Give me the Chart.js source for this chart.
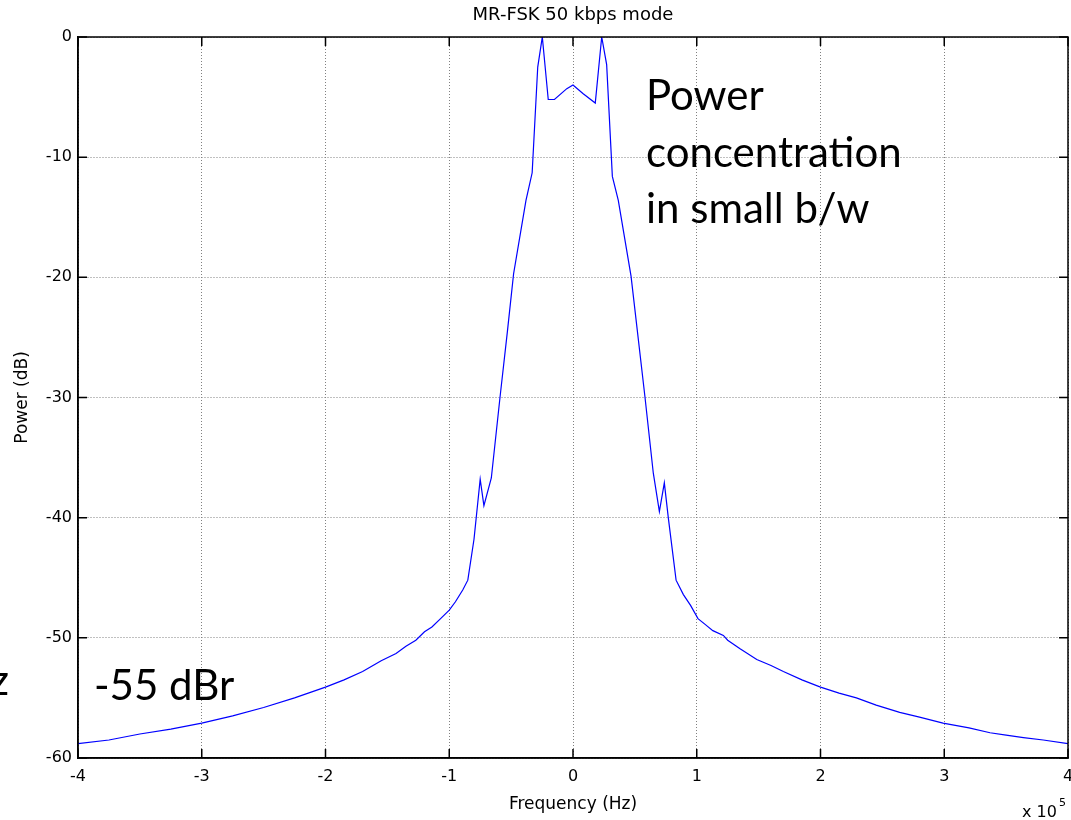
<!DOCTYPE html>
<html>
<head>
<meta charset="utf-8">
<title>MR-FSK 50 kbps mode</title>
<script src="https://cdn.jsdelivr.net/npm/chart.js@4.4.1/dist/chart.umd.min.js"></script>
<style>
  html, body { margin: 0; padding: 0; background: #fff; }
  canvas { display: block; }
</style>
</head>
<body>
<canvas id="grafico" width="1071" height="820"></canvas>
<script>
// frequencia em unidades de 10^5 Hz
const frequencias = [
    -4.00, -3.75, -3.50, -3.25, -3.00, -2.75, -2.50, -2.25, -2.00, -1.85,
    -1.70, -1.55, -1.43, -1.35, -1.27, -1.20, -1.14, -1.07, -1.00, -0.95,
    -0.89, -0.85, -0.80, -0.75, -0.72, -0.66, -0.59, -0.53, -0.48, -0.38,
    -0.33, -0.285, -0.248, -0.20, -0.15, -0.05, 0.00, 0.08, 0.18, 0.232,
    0.272, 0.318, 0.366, 0.469, 0.582, 0.649, 0.698, 0.738, 0.77, 0.833,
    0.892, 0.95, 1.01, 1.07, 1.13, 1.215, 1.25, 1.35, 1.485, 1.60,
    1.70, 1.85, 2.00, 2.15, 2.29, 2.45, 2.64, 2.80, 2.99, 3.20,
    3.37, 3.50, 3.64, 3.80, 4.00
];

// potencia em dB
const potencias = [
    -58.8, -58.5, -58.0, -57.6, -57.1, -56.5, -55.8, -55.0, -54.1, -53.5,
    -52.8, -51.9, -51.3, -50.7, -50.2, -49.5, -49.1, -48.4, -47.7, -47.0,
    -46.0, -45.2, -41.8, -36.8, -39.0, -36.7, -30.0, -24.5, -19.7, -13.6,
    -11.3, -2.5, 0.0, -5.2, -5.2, -4.3, -4.0, -4.7, -5.5, 0.0,
    -2.3, -11.6, -13.6, -19.9, -30.0, -36.3, -39.5, -37.1, -40.0, -45.2,
    -46.4, -47.3, -48.4, -48.9, -49.4, -49.8, -50.2, -50.9, -51.8, -52.3,
    -52.8, -53.5, -54.1, -54.6, -55.0, -55.6, -56.2, -56.6, -57.1, -57.5,
    -57.9, -58.1, -58.3, -58.5, -58.8
];

const ticksX = [-4, -3, -2, -1, 0, 1, 2, 3, 4];
const ticksY = [-60, -50, -40, -30, -20, -10, 0];

const textoNota = ['Power', 'concentration', 'in small b/w'];
const textoNivel = '-55 dBr';

const fonteEixo = "'DejaVu Sans', sans-serif";
const fonteNota = "Lato, 'Open Sans', sans-serif";

const pontos = frequencias.map((f, i) => ({ x: f, y: potencias[i] }));

// moldura fechada, marcas internas e textos soltos
const moldura = {
    id: 'moldura',
    afterDraw(chart) {
        const { ctx, chartArea: a, scales: { x, y } } = chart;
        ctx.save();

        ctx.strokeStyle = '#000';
        ctx.lineWidth = 1.5;
        ctx.strokeRect(a.left, a.top, a.right - a.left, a.bottom - a.top);

        ctx.beginPath();
        x.ticks.forEach(t => {
            const px = x.getPixelForValue(t.value);
            ctx.moveTo(px, a.bottom); ctx.lineTo(px, a.bottom - 9);
            ctx.moveTo(px, a.top); ctx.lineTo(px, a.top + 9);
        });
        y.ticks.forEach(t => {
            const py = y.getPixelForValue(t.value);
            ctx.moveTo(a.left, py); ctx.lineTo(a.left + 9, py);
            ctx.moveTo(a.right, py); ctx.lineTo(a.right - 9, py);
        });
        ctx.stroke();

        // x 10^5
        ctx.fillStyle = '#000';
        ctx.textAlign = 'left';
        ctx.textBaseline = 'alphabetic';
        ctx.font = '16px ' + fonteEixo;
        ctx.fillText('x 10', 1022, 817);
        ctx.font = '11px ' + fonteEixo;
        ctx.fillText('5', 1059, 806);

        // anotacoes
        ctx.font = '42px ' + fonteNota;
        textoNota.forEach((linha, i) => {
            ctx.fillText(linha, 646, 110 + i * 56.5);
        });
        ctx.fillText(textoNivel, 94, 700);
        ctx.textAlign = 'right';
        ctx.fillText('Hz', 9, 695);

        ctx.restore();
    }
};

const contexto = document.getElementById('grafico').getContext('2d');

new Chart(contexto, {
    type: 'line',
    data: {
        datasets: [{
            data: pontos,
            borderColor: '#0000ff',
            borderWidth: 1.2,
            pointRadius: 0,
            tension: 0,
            fill: false
        }]
    },
    options: {
        responsive: false,
        animation: false,
        layout: { padding: { top: 0, right: 3, bottom: 0, left: 0 } },
        plugins: {
            legend: { display: false },
            tooltip: { enabled: false },
            title: {
                display: true,
                text: 'MR-FSK 50 kbps mode',
                fullSize: false,
                color: '#000',
                font: { family: fonteEixo, size: 18, weight: 'normal' },
                padding: { top: 5, bottom: 10.4 }
            }
        },
        scales: {
            x: {
                type: 'linear',
                min: -4,
                max: 4,
                afterBuildTicks: s => { s.ticks = ticksX.map(v => ({ value: v })); },
                afterFit: s => { s.height = 62; s.paddingLeft = 0; s.paddingRight = 0; },
                grid: { color: '#808080', lineWidth: 1, drawTicks: false },
                border: { display: true, color: '#000', width: 1.5, dash: [1, 2] },
                ticks: { padding: 9, color: '#000', font: { family: fonteEixo, size: 16 } },
                title: {
                    display: true,
                    text: 'Frequency (Hz)',
                    color: '#000',
                    font: { family: fonteEixo, size: 17 },
                    padding: { top: 0, bottom: 5.5 }
                }
            },
            y: {
                type: 'linear',
                min: -60,
                max: 0,
                afterBuildTicks: s => { s.ticks = ticksY.map(v => ({ value: v })); },
                afterFit: s => { s.width = 78; s.paddingTop = 0; s.paddingBottom = 0; },
                grid: { color: '#808080', lineWidth: 1, drawTicks: false },
                border: { display: true, color: '#000', width: 1.5, dash: [1, 2] },
                ticks: { padding: 6, color: '#000', font: { family: fonteEixo, size: 16 } },
                title: {
                    display: true,
                    text: 'Power (dB)',
                    color: '#000',
                    font: { family: fonteEixo, size: 17 },
                    padding: { top: 12, bottom: 0 }
                }
            }
        }
    },
    plugins: [moldura]
});
</script>
</body>
</html>
